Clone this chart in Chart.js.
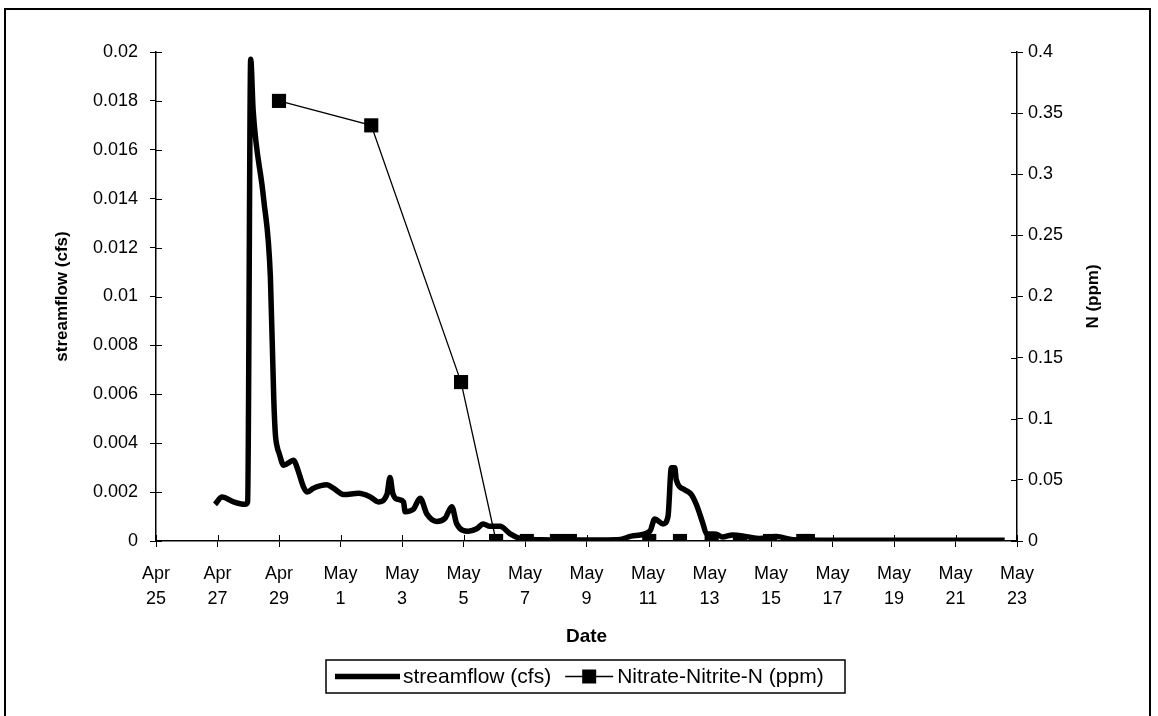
<!DOCTYPE html>
<html><head><meta charset="utf-8">
<script src="https://cdn.jsdelivr.net/npm/chart.js@4.4.0/dist/chart.umd.min.js"></script>
<style>html,body{margin:0;padding:0;background:#fff}#wrap{position:relative;width:1158px;height:716px}</style>
</head><body><div id="wrap"><canvas id="c" width="1158" height="716"></canvas></div>
<script>
// days after Apr 25
const streamflowDays = [1.92,2.15,2.52,2.9,2.98,3.08,3.16,3.5,3.72,3.83,3.88,3.95,4.0,4.15,4.48,4.59,4.8,4.91,5.12,5.56,5.77,6.1,6.59,6.97,7.23,7.51,7.61,7.7,7.88,8.05,8.1,8.37,8.59,8.81,9.13,9.4,9.62,9.78,10.16,10.43,10.64,10.86,11.19,11.51,11.84,12.5,13.5,14.5,15.1,15.46,16.06,16.22,16.49,16.65,16.76,16.87,16.92,17.19,17.41,17.57,17.79,17.9,18.22,18.42,18.76,19.2,19.62,20.17,20.72,22,24,26,27.6];
const streamflowCfs = [0.0015,0.0018,0.0016,0.0015,0.0016,0.0197,0.0176,0.014,0.0108,0.0058,0.0044,0.0038,0.0036,0.0031,0.0033,0.003,0.0022,0.002,0.00216,0.0023,0.00216,0.0019,0.00195,0.0018,0.0016,0.0019,0.0026,0.00195,0.0017,0.0016,0.0012,0.0013,0.00175,0.0011,0.0008,0.00093,0.0014,0.0007,0.0004,0.0005,0.0007,0.0006,0.0006,0.0003,0.0001,0.00005,0.00004,0.00004,0.00006,0.0002,0.0004,0.0009,0.0007,0.001,0.003,0.003,0.0025,0.0021,0.0019,0.0015,0.0007,0.0003,0.00028,0.00016,0.00025,0.00018,0.0001,0.00018,0.00005,0.00003,0.00003,0.00003,0.00003];
const nitrateDays = [4.0,7.0,9.92,11.06,12.06,13.04,13.46,16.04,17.04,18.07,18.99,19.97,21.05,21.2];
const nitratePpm = [0.36,0.34,0.13,0,0,0,0,0,0,0,0,0,0,0];
const xTickLabels = [["Apr","25"],["Apr","27"],["Apr","29"],["May","1"],["May","3"],["May","5"],["May","7"],["May","9"],["May","11"],["May","13"],["May","15"],["May","17"],["May","19"],["May","21"],["May","23"]];
const seriesNames = ["streamflow (cfs)","Nitrate-Nitrite-N (ppm)"];
const titleX = "Date", titleLeft = "streamflow (cfs)", titleRight = "N (ppm)";

const FF = '"Liberation Sans", Arial, sans-serif';
const toXY = (xs, ys) => xs.map((x, i) => ({x, y: ys[i]}));

const decor = {
  id: 'decor',
  afterDraw(chart) {
    const ctx = chart.ctx, a = chart.chartArea;
    ctx.save();
    ctx.strokeStyle = '#000';
    ctx.lineWidth = 1;
    const xs = chart.scales.x, yl = chart.scales.y, yr = chart.scales.y2;
    ctx.beginPath();
    xs.ticks.forEach(t => { const p = Math.round(xs.getPixelForValue(t.value)) + 0.5; ctx.moveTo(p, a.bottom); ctx.lineTo(p, a.bottom - 6); });
    yl.ticks.forEach(t => { const p = Math.round(yl.getPixelForValue(t.value)) + 0.5; ctx.moveTo(a.left, p); ctx.lineTo(a.left + 6, p); });
    yr.ticks.forEach(t => { const p = Math.round(yr.getPixelForValue(t.value)) + 0.5; ctx.moveTo(a.right, p); ctx.lineTo(a.right - 6, p); });
    ctx.stroke();
    // outer frame
    ctx.lineWidth = 2;
    ctx.beginPath();
    ctx.moveTo(5, 716); ctx.lineTo(5, 9); ctx.lineTo(1150, 9); ctx.lineTo(1150, 716);
    ctx.stroke();
    // axis titles
    ctx.fillStyle = '#000';
    ctx.font = 'bold 19px ' + FF;
    ctx.textAlign = 'center'; ctx.textBaseline = 'middle';
    ctx.fillText(titleX, (a.left + a.right) / 2, 637);
    ctx.font = 'bold 17px ' + FF;
    ctx.save(); ctx.translate(62, (a.top + a.bottom) / 2); ctx.rotate(-Math.PI / 2); ctx.fillText(titleLeft, 0, 0); ctx.restore();
    ctx.save(); ctx.translate(1093, (a.top + a.bottom) / 2); ctx.rotate(-Math.PI / 2); ctx.fillText(titleRight, 0, 0); ctx.restore();
    // legend
    const lx = 326, ly = 660, lw = 519, lh = 33, cy = ly + lh / 2;
    ctx.lineWidth = 1.5;
    ctx.strokeRect(lx, ly, lw, lh);
    const ds = chart.data.datasets;
    ctx.lineWidth = ds[0].borderWidth;
    ctx.beginPath(); ctx.moveTo(335, cy); ctx.lineTo(400, cy); ctx.stroke();
    ctx.font = '21px ' + FF; ctx.textAlign = 'left';
    ctx.fillText(ds[0].label, 403, cy + 1);
    const w0 = ctx.measureText(ds[0].label).width;
    const sx = 403 + w0 + 14;
    ctx.lineWidth = 1.5;
    ctx.beginPath(); ctx.moveTo(sx, cy); ctx.lineTo(sx + 48, cy); ctx.stroke();
    ctx.fillRect(sx + 24 - 7, cy - 7, 14, 14);
    ctx.fillText(ds[1].label, sx + 52, cy + 1);
    ctx.restore();
  }
};

const gridOpts = { display: true, drawOnChartArea: false, drawTicks: true, tickLength: 6, color: '#000', lineWidth: 1 };
const borderOpts = { display: true, color: '#000', width: 1.5 };

new Chart(document.getElementById('c'), {
  type: 'line',
  data: {
    datasets: [
      { label: seriesNames[0], data: toXY(streamflowDays, streamflowCfs), yAxisID: 'y', borderColor: '#000', borderWidth: 5.5, pointRadius: 0, cubicInterpolationMode: 'monotone', fill: false, order: 1 },
      { label: seriesNames[1], data: toXY(nitrateDays, nitratePpm), yAxisID: 'y2', borderColor: '#000', backgroundColor: '#000', borderWidth: 1.3, pointStyle: 'rect', pointRadius: 10, pointBorderWidth: 0, tension: 0, fill: false, order: 0 }
    ]
  },
  options: {
    responsive: false, animation: false, devicePixelRatio: 1,
    layout: { padding: { top: 52, left: 0, right: 0, bottom: 0 } },
    plugins: { legend: { display: false }, tooltip: { enabled: false }, title: { display: false } },
    scales: {
      x: {
        type: 'linear', min: 0, max: 28,
        grid: gridOpts, border: borderOpts,
        ticks: { stepSize: 2, autoSkip: false, maxRotation: 0, minRotation: 0, padding: 14, color: '#000',
          font: { family: FF, size: 18, lineHeight: 1.4 },
          callback: (v, i) => xTickLabels[i] },
        afterFit: s => { s.height = 175; }
      },
      y: {
        position: 'left', min: 0, max: 0.02,
        grid: gridOpts, border: borderOpts,
        ticks: { stepSize: 0.002, padding: 12, color: '#000', font: { family: FF, size: 18 },
          callback: v => String(+v.toFixed(3)) },
        afterFit: s => { s.width = 156; }
      },
      y2: {
        position: 'right', min: 0, max: 0.4,
        grid: gridOpts, border: borderOpts,
        ticks: { stepSize: 0.05, padding: 5, color: '#000', font: { family: FF, size: 18 },
          callback: v => String(+v.toFixed(2)) },
        afterFit: s => { s.width = 141; }
      }
    }
  },
  plugins: [decor]
});
</script></body></html>
